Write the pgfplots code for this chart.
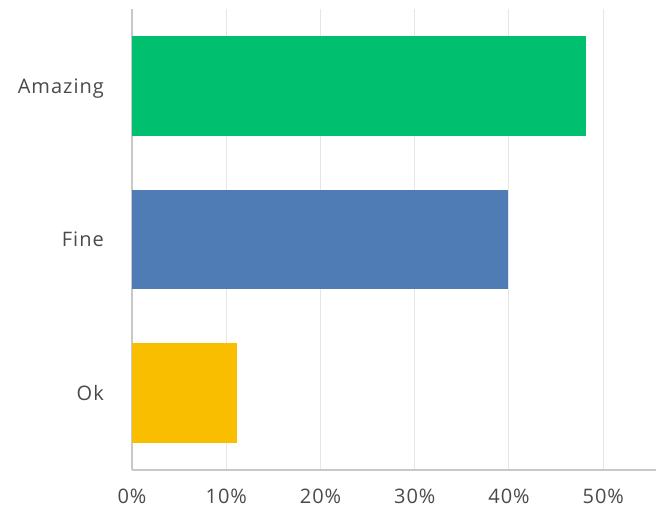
\documentclass[border=0pt]{standalone}
\usepackage{fontspec}
\setmainfont{Open Sans}[LetterSpace=5]
\usepackage{pgfplots}
\pgfplotsset{compat=1.18}
\definecolor{cgreen}{HTML}{00BF6F}
\definecolor{cblue}{HTML}{507CB6}
\definecolor{cyellow}{HTML}{F9BE00}
\definecolor{gridgray}{HTML}{E6E6E6}
\definecolor{axgray}{HTML}{C8C8C8}
\definecolor{txt}{HTML}{4A4A4A}
\begin{document}
\begin{tikzpicture}
\begin{axis}[
  name=ax,
  scale only axis,
  width=524bp, height=461bp,
  xmin=0, xmax=55.6,
  ymin=-0.5, ymax=2.5,
  xtick={0,10,20,30,40,50},
  xticklabels={0\%,10\%,20\%,30\%,40\%,50\%},
  ytick={0,1,2},
  yticklabels={Ok,Fine,Amazing},
  major tick length=0pt,
  axis x line*=bottom,
  axis y line*=left,
  axis line style={axgray, line width=1.3bp, -},
  xmajorgrids,
  major grid style={gridgray, line width=1bp},
  tick label style={font=\fontsize{20bp}{24bp}\selectfont, text=txt, inner sep=0pt},
  xticklabel style={anchor=north, yshift=-19bp},
  yticklabel style={anchor=east, xshift=-28bp, text depth=0pt},
  /pgf/number format/assume math mode=true,
  bar width=0.65,
]
\addplot[xbar, fill=cyellow, draw=none] coordinates {(11.15,0)};
\addplot[xbar, fill=cblue, draw=none] coordinates {(39.9,1)};
\addplot[xbar, fill=cgreen, draw=none] coordinates {(48.2,2)};
\end{axis}
\path[use as bounding box] ([xshift=-132bp,yshift=-44bp]ax.south west) rectangle ([xshift=1bp,yshift=9bp]ax.north east);
\end{tikzpicture}
\end{document}
